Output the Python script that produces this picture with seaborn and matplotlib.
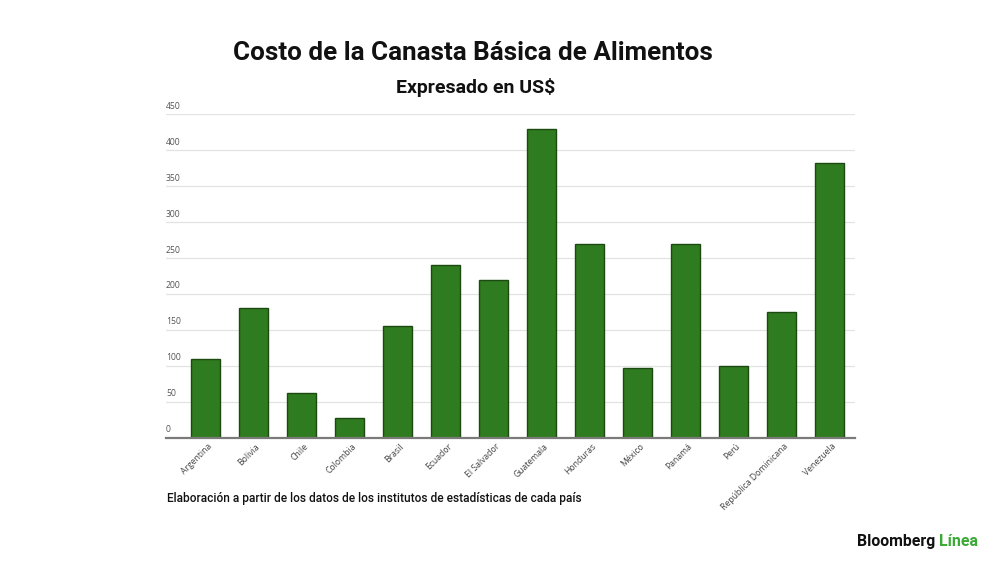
import matplotlib
matplotlib.use("Agg")
import matplotlib.pyplot as plt
import matplotlib.transforms as mtransforms
import seaborn as sns
import pandas as pd

countries = ["Argentina", "Bolivia", "Chile", "Colombia", "Brasil", "Ecuador",
             "El Salvador", "Guatemala", "Honduras", "México", "Panamá", "Perú",
             "República Dominicana", "Venezuela"]
costs = [110, 181, 62, 28, 156, 240, 220, 430, 269, 97, 270, 100, 175, 382]
yticks = [0, 50, 100, 150, 200, 250, 300, 350, 400, 450]

title = "Costo de la Canasta Básica de Alimentos"
subtitle = "Expresado en US$"
note = "Elaboración a partir de los datos de los institutos de estadísticas de cada país"

sns.set_theme(style="white")
plt.rcParams["font.family"] = ["Roboto", "DejaVu Sans"]

df = pd.DataFrame({"pais": countries, "costo": costs})

fig = plt.figure(figsize=(10, 5.62), dpi=100)
fig.patch.set_facecolor("white")
ax = fig.add_axes([0.166, 0.2212, 0.689, 0.5754])

sns.barplot(data=df, x="pais", y="costo", color="#2f7b1f", saturation=1,
            width=0.6, edgecolor="#1c4a12", linewidth=1.0, ax=ax, zorder=3)

ax.set_xlim(-0.82, 13.53)
ax.set_ylim(0, 450)
ax.set_xlabel("")
ax.set_ylabel("")
for s in ["top", "right", "left"]:
    ax.spines[s].set_visible(False)
ax.spines["bottom"].set_color("#7a7a7a")
ax.spines["bottom"].set_linewidth(1.6)
ax.spines["bottom"].set_zorder(4)

ax.set_yticks(yticks)
ax.set_yticklabels([])
ax.tick_params(axis="y", length=0)
ax.yaxis.grid(True, color="#e3e3e3", linewidth=0.9, zorder=0)
ax.set_axisbelow(True)

trans = mtransforms.blended_transform_factory(ax.transAxes, ax.transData)
shift = mtransforms.ScaledTranslation(0, 2.5 / 72, fig.dpi_scale_trans)
for v in yticks:
    ax.text(0.0, v, str(v), transform=trans + shift, ha="left", va="bottom",
            fontsize=6.2, color="#555555",
            family=["Open Sans", "DejaVu Sans"])

ax.set_xticks(range(len(countries)))
ax.set_xticklabels(countries, rotation=45, ha="right", va="top",
                   rotation_mode="anchor", fontsize=6.2, color="#444444",
                   family=["Open Sans", "DejaVu Sans"])
ax.tick_params(axis="x", length=0, pad=3)
for lbl in ax.get_xticklabels():
    lbl.set_transform(lbl.get_transform() + mtransforms.ScaledTranslation(1.5 / 72, 0, fig.dpi_scale_trans))

fig.text(0.473, 0.906, title, ha="center", va="center", fontsize=18.7,
         fontweight="bold", color="#111111")
fig.text(0.476, 0.845, subtitle, ha="center", va="center", fontsize=14,
         fontweight="bold", color="#111111")
fig.text(0.167, 0.113, note, ha="left", va="center", fontsize=8.6,
         fontweight="medium", color="#111111")

logo1 = fig.text(0.857, 0.037, "Bloomberg ", ha="left", va="center",
                 fontsize=11.4, fontweight="bold", color="#111111")
fig.canvas.draw()
bb = logo1.get_window_extent()
x2 = bb.x1 / fig.bbox.width
fig.text(x2, 0.037, "Línea", ha="left", va="center", fontsize=11.4,
         fontweight="bold", color="#3aaa35")

fig.savefig("out.png", dpi=100, facecolor="white")
